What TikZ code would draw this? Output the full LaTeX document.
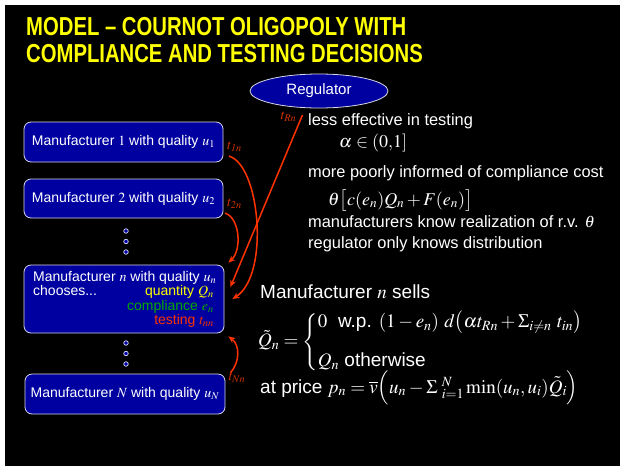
\documentclass[tikz,border=0pt]{standalone}
\usepackage{mathptmx}
\usepackage[no-math]{fontspec}
\setmainfont{Liberation Sans}
\newfontfamily\titlefont[FakeStretch=0.78]{Liberation Sans}
\usetikzlibrary{shapes.geometric,calc,arrows.meta}

\definecolor{slideblue}{RGB}{0,0,160}
\definecolor{arrowred}{RGB}{255,51,0}
\definecolor{labelred}{RGB}{210,50,0}
\definecolor{titleyellow}{RGB}{255,255,0}
\definecolor{compgreen}{RGB}{0,170,0}
\definecolor{boxedge}{RGB}{215,215,230}
\definecolor{dotedge}{RGB}{225,225,255}

\tikzset{
  slidetitle/.style={text=titleyellow, anchor=base west, inner sep=0,
    font=\titlefont\bfseries\fontsize{26}{30}\selectfont},
  mfbox/.style={draw=boxedge, line width=0.8pt, fill=slideblue, rounded corners=7pt,
    text=white, inner sep=0, font=\fontsize{14}{17}\selectfont},
  boxtxt/.style={inner sep=0, font=\fontsize{14}{17}\selectfont},
  regbox/.style={ellipse, draw=boxedge, line width=0.8pt, fill=slideblue, text=white,
    minimum width=138pt, minimum height=34pt, inner sep=0, font=\fontsize{15}{18}\selectfont},
  tlabel/.style={text=labelred, inner sep=0, font=\fontsize{14}{16}\selectfont},
  flow/.style={draw=arrowred, line width=1.5pt, -{Stealth[length=7pt,width=6pt]}},
  body/.style={text=white, anchor=base west, inner sep=0, font=\fontsize{16.4}{19}\selectfont},
  mathline/.style={text=white, anchor=base west, inner sep=0, font=\fontsize{18}{21}\selectfont},
  eqline/.style={text=white, anchor=base west, inner sep=0, font=\fontsize{19}{22}\selectfont},
  dotmark/.style={circle, draw=dotedge, fill=slideblue, line width=0.7pt,
    minimum size=4.5pt, inner sep=0}
}

\begin{document}
\begin{tikzpicture}[x=1pt, y=-1pt]
  % page and slide background
  \fill[white] (0,0) rectangle (620,466);
  \fill[black] (5,5) rectangle (620,466);
  \useasboundingbox (0,0) rectangle (620,466);

  % title
  \node[slidetitle] (title1) at (26,35) {MODEL – COURNOT OLIGOPOLY WITH};
  \node[slidetitle] (title2) at (26,62) {COMPLIANCE AND TESTING DECISIONS};

  % regulator
  \node[regbox] (reg) at (319,91) {Regulator};

  % manufacturers
  \node[mfbox, minimum width=199pt, minimum height=40pt] (m1) at (123.5,142)
    {Manufacturer $1$ with quality $u_1$};
  \node[mfbox, minimum width=199pt, minimum height=39pt] (m2) at (123.5,198.5)
    {Manufacturer $2$ with quality $u_2$};
  \node[mfbox, minimum width=200pt, minimum height=68pt] (mn) at (124,299) {};
  \node[mfbox, minimum width=200pt, minimum height=40pt] (mN) at (125,394)
    {Manufacturer $N$ with quality $u_N$};

  % contents of manufacturer n
  \node[boxtxt, text=white, anchor=base west] (mnhead) at (33,281)
    {Manufacturer $n$ with quality $u_n$};
  \node[boxtxt, text=white, anchor=base west] (mnchoose) at (33,295) {chooses...};
  \node[boxtxt, text=titleyellow, anchor=base east] (mnq) at (214,295) {quantity $Q_n$};
  \node[boxtxt, text=compgreen, anchor=base east] (mne) at (214,310) {compliance $e_n$};
  \node[boxtxt, text=arrowred, anchor=base east] (mnt) at (214,324) {testing $t_{nn}$};

  % ellipsis dots
  \foreach \i/\y in {1/231,2/241.5,3/252,4/343,5/353.5,6/364}
    \node[dotmark] (dot\i) at (126,\y) {};

  % test labels
  \node[tlabel] (t1n) at (234.5,147) {$t_{\mathit{1n}}$};
  \node[tlabel] (t2n) at (234.5,204) {$t_{\mathit{2n}}$};
  \node[tlabel] (tRn) at (288.5,117) {$t_{Rn}$};
  \node[tlabel] (tNn) at (237,378) {$t_{Nn}$};

  % testing flows into manufacturer n
  \draw[flow] ($(t2n.south west)+(-2,4)$) .. controls (240,218) and (242,250)
    .. ($(mn.north east)+(4,-2)$);
  \draw[flow] ($(tRn.east)+(6,-2)$) -- ($(mn.east)+(6,-12)$);
  \draw[flow] ($(t1n.south)+(-5.5,4)$) .. controls (260,165) and (270,275)
    .. ($(mn.east)+(8,0)$);
  \draw[flow] ($(tNn.north west)+(2,0)$) .. controls (240,362) and (240,345)
    .. ($(mn.south east)+(4,3)$);

  % regulator properties
  \node[body] (r1) at (308,125) {less effective in testing};
  \node[mathline] (r2) at (339,147) {$\alpha\in(0{,}1]$};
  \node[body] (r3) at (308,177) {more poorly informed of compliance cost};
  \node[mathline] (r4) at (328,205) {$\theta\bigl[c(e_n)Q_n+F(e_n)\bigr]$};
  \node[body] (r5) at (308,227) {manufacturers know realization of r.v. $\theta$};
  \node[body] (r6) at (308,248) {regulator only knows distribution};

  % sales and price
  \node[eqline] (s1) at (260,298) {Manufacturer $n$ sells};
  \node[eqline, anchor=west] (s2) at (258,342)
    {$\tilde{Q}_n=\left\{\begin{array}{@{}l@{}}
      0\ \ \mbox{w.p. }(1-e_n)\ d\bigl(\alpha t_{Rn}+\Sigma_{i\neq n}\ t_{in}\bigr)\\[17pt]
      Q_n\ \mbox{otherwise}\end{array}\right.$};
  \node[eqline] (s3) at (260,393)
    {at price $p_n=\overline{v}\Bigl(u_n-\Sigma\;{}^{N}_{i=1}\min(u_n,u_i)\tilde{Q}_i\Bigr)$};
\end{tikzpicture}
\end{document}
